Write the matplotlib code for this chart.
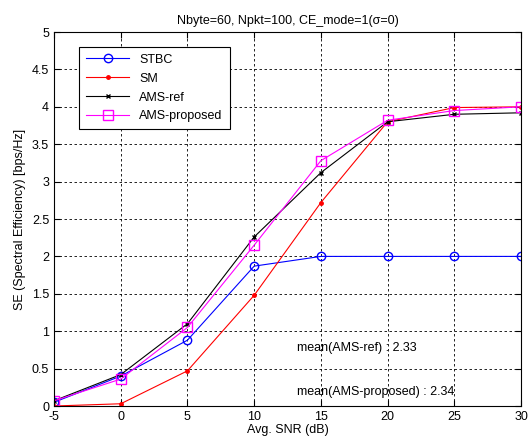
import matplotlib
matplotlib.use("Agg")
import matplotlib.pyplot as plt

plt.rcParams['font.family'] = ['Liberation Sans', 'DejaVu Sans']
plt.rcParams['axes.unicode_minus'] = False

snr = [-5, 0, 5, 10, 15, 20, 25, 30]
stbc = [0.05, 0.40, 0.88, 1.87, 2.00, 2.00, 2.00, 2.00]
sm = [0.00, 0.03, 0.47, 1.48, 2.72, 3.80, 3.99, 4.00]
ams_ref = [0.07, 0.42, 1.10, 2.26, 3.12, 3.80, 3.90, 3.92]
ams_prop = [0.07, 0.36, 1.05, 2.15, 3.28, 3.82, 3.95, 4.00]

fig = plt.figure(figsize=(5.28, 4.47), dpi=100)
ax = fig.add_axes([0.1023, 0.0917, 0.8845, 0.8367])

ax.plot(snr, stbc, color='blue', marker='o', mfc='none', ms=6, lw=0.8, label='STBC')
ax.plot(snr, sm, color='red', marker='.', ms=5, lw=0.8, label='SM')
ax.plot(snr, ams_ref, color='black', marker='x', ms=3, lw=0.8, label='AMS-ref')
ax.plot(snr, ams_prop, color='magenta', marker='s', mfc='none', ms=7, lw=0.8, label='AMS-proposed')

ax.set_xlim(-5, 30)
ax.set_ylim(0, 5)
ax.set_xticks(range(-5, 31, 5))
ax.set_yticks([0, 0.5, 1, 1.5, 2, 2.5, 3, 3.5, 4, 4.5, 5])
ax.set_yticklabels(['0', '0.5', '1', '1.5', '2', '2.5', '3', '3.5', '4', '4.5', '5'])
ax.grid(True, color='black', linestyle=(0, (3, 3)), lw=0.6)
ax.tick_params(direction='in', top=True, right=True, labelsize=9, length=4)
for s in ax.spines.values():
    s.set_linewidth(0.8)

ax.set_title('Nbyte=60, Npkt=100, CE_mode=1(\u03c3=0)', fontsize=9)
ax.set_xlabel('Avg. SNR (dB)', fontsize=9, labelpad=1)
ax.set_ylabel('SE (Spectral Efficiency) [bps/Hz]', fontsize=9)

ax.text(13.2, 0.78, 'mean(AMS-ref) : 2.33', fontsize=9, va='center')
ax.text(13.2, 0.19, 'mean(AMS-proposed) : 2.34', fontsize=9, va='center')

leg = ax.legend(loc='upper left', bbox_to_anchor=(0.053, 0.96), fontsize=9, numpoints=1,
                handlelength=3.5, fancybox=False, framealpha=1, edgecolor='black',
                borderpad=0.55, labelspacing=0.55, borderaxespad=0)
leg.get_frame().set_linewidth(0.8)

fig.savefig('out.png')
